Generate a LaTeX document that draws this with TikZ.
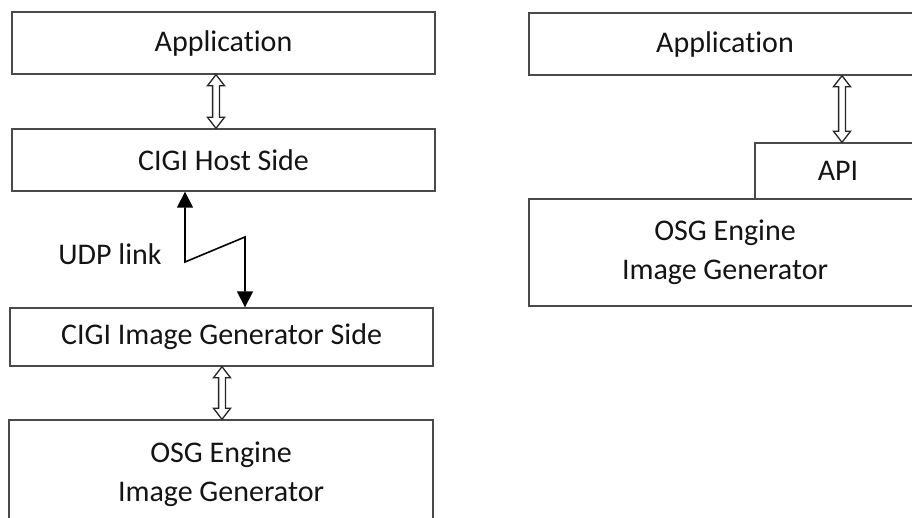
\documentclass[tikz,border=0pt]{standalone}
\usepackage{fontspec}
\setmainfont{Carlito}[Ligatures=NoCommon]
\usetikzlibrary{calc,arrows.meta}
\definecolor{boxline}{HTML}{4A4A4A}
\definecolor{txt}{HTML}{141414}
\newcommand\hollowdbl[2]{%
  \draw[dblarrow] (#1) -- ($(#1)+(8.5,11)$) -- ($(#1)+(3.4,11)$) -- ($(#2)+(3.4,-11)$) -- ($(#2)+(8.5,-11)$) -- (#2) -- ($(#2)+(-8.5,-11)$) -- ($(#2)+(-3.4,-11)$) -- ($(#1)+(-3.4,11)$) -- ($(#1)+(-8.5,11)$) -- cycle;}
\begin{document}
\begin{tikzpicture}[x=1pt,y=-1pt,
  blk/.style={draw=boxline, line width=1.4pt, rectangle, inner sep=0pt, text=txt, align=center,
     font=\fontsize{30}{39}\selectfont},
  dblarrow/.style={draw=black!85, line width=1.3pt, fill=white, line join=miter},
  udp/.style={draw=black, line width=1.6pt, {Triangle[length=16pt,width=16pt]}-{Triangle[length=16pt,width=16pt]}},
  lbl/.style={text=txt, font=\fontsize{30}{39}\selectfont, inner sep=0pt}]
\useasboundingbox (0,0) rectangle (912,517);
\clip (0,0) rectangle (912,517);
% left column
\node[blk, minimum width=423pt, minimum height=62pt] (appL) at (223.5,43) {Application};
\node[blk, minimum width=423pt, minimum height=62pt] (host) at (223.5,160) {CIGI Host Side};
\node[blk, minimum width=423pt, minimum height=58pt] (ig) at (221.5,337) {CIGI Image Generator Side};
\node[blk, minimum width=424pt, minimum height=108pt] (osgL) at (221,474) {OSG Engine\\Image Generator};
% right column
\node[blk, minimum width=392pt, minimum height=62pt] (appR) at (725,44) {Application};
\node[blk, minimum width=392pt, minimum height=107pt] (osgR) at (725,252.5) {OSG Engine\\Image Generator};
\node[blk, minimum width=166pt, minimum height=56pt] (api) at (838,171) {API};
% hollow double arrows
\coordinate (a1t) at (appL.south -| 216,0);
\coordinate (a1b) at (host.north -| 216,0);
\hollowdbl{a1t}{a1b}
\coordinate (a2t) at (ig.south -| 222,0);
\coordinate (a2b) at (osgL.north -| 222,0);
\hollowdbl{a2t}{a2b}
\coordinate (a3t) at (appR.south -| 842,0);
\coordinate (a3b) at (api.north -| 842,0);
\hollowdbl{a3t}{a3b}
% UDP link zigzag
\coordinate (z1) at (185,262);
\coordinate (z2) at (245,237);
\draw[udp] (host.south -| z1) -- (z1) -- (z2) -- (ig.north -| z2);
\node[lbl] (udplbl) at (110,254) {UDP link};
\end{tikzpicture}
\end{document}
